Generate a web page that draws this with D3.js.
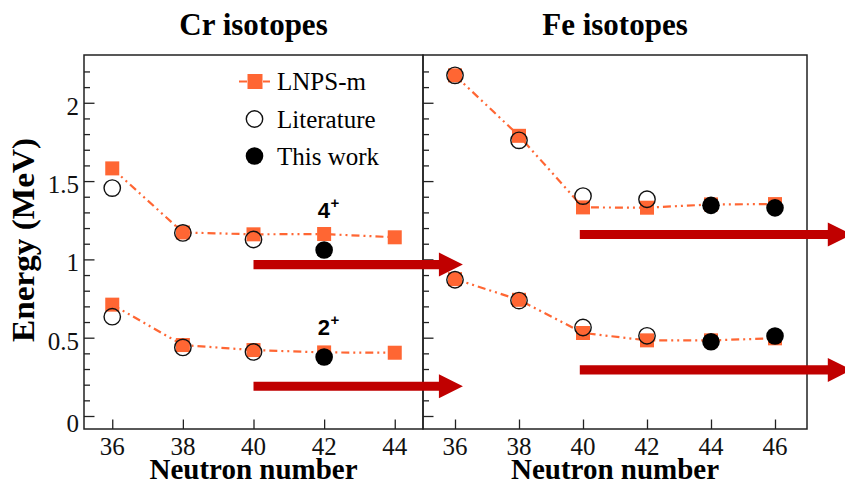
<!DOCTYPE html>
<html>
<head>
<meta charset="utf-8">
<script src="https://cdn.jsdelivr.net/npm/d3@7"></script>
<style>
  body { margin: 0; background: #fff; }
  svg { display: block; }
</style>
</head>
<body>
<svg id="chart" width="845" height="485"></svg>
<script>
// ---- Cr isotopes: excitation energies (MeV) ----
const crNeutrons   = [36, 38, 40, 42, 44];
const cr2Lnps      = [0.711, 0.453, 0.421, 0.406, 0.404];
const cr4Lnps      = [1.581, 1.172, 1.160, 1.162, 1.141];
const crLitN       = [36, 38, 40];
const cr2Lit       = [0.634, 0.438, 0.409];
const cr4Lit       = [1.455, 1.169, 1.127];
const crWorkN      = [42];
const cr2Work      = [0.377];
const cr4Work      = [1.060];

// ---- Fe isotopes: excitation energies (MeV) ----
const feNeutrons   = [36, 38, 40, 42, 44, 46];
const fe2Lnps      = [0.874, 0.742, 0.530, 0.483, 0.483, 0.496];
const fe4Lnps      = [2.175, 1.789, 1.332, 1.330, 1.351, 1.353];
const feLitN       = [36, 38, 40, 42];
const fe2Lit       = [0.870, 0.737, 0.565, 0.512];
const fe4Lit       = [2.175, 1.760, 1.404, 1.384];
const feWorkN      = [44, 46];
const fe2Work      = [0.474, 0.511];
const fe4Work      = [1.345, 1.329];

// ---- axes ----
const energyTicks  = [0, 0.5, 1, 1.5, 2];
const crTicks      = [36, 38, 40, 42, 44];
const feTicks      = [36, 38, 40, 42, 44, 46];

// ---- trend arrows (energy level, start/end neutron number) ----
const crArrowLevels = [0.967, 0.190];
const crArrowSpan   = [40, 45.93];
const feArrowLevels = [1.159, 0.294];
const feArrowSpan   = [39.9, 48.4];

// ---- spin labels in the Cr panel ----
const spinLabels = [{ spin: "4", e: 1.264 }, { spin: "2", e: 0.517 }];
const spinLabelN = 42;

const ORANGE = "#ff6633";
const ARROW  = "#c00000";
const SERIF  = "'Liberation Serif', 'Times New Roman', serif";
const SANS   = "'Liberation Sans', Arial, sans-serif";

const svg = d3.select("#chart");
const plotTop = 55, plotBottom = 429;
const y = d3.scaleLinear().domain([-0.083, 2.305]).range([plotBottom, plotTop]);

const panels = [
  { name: "Cr isotopes", x0: 84,  x1: 423, domain: [35.2, 44.8], ticks: crTicks,
    n: crNeutrons, lnps: [cr2Lnps, cr4Lnps], litN: crLitN, lit: [cr2Lit, cr4Lit],
    workN: crWorkN, work: [cr2Work, cr4Work], arrows: crArrowLevels, span: crArrowSpan },
  { name: "Fe isotopes", x0: 423, x1: 807, domain: [35, 47], ticks: feTicks,
    n: feNeutrons, lnps: [fe2Lnps, fe4Lnps], litN: feLitN, lit: [fe2Lit, fe4Lit],
    workN: feWorkN, work: [fe2Work, fe4Work], arrows: feArrowLevels, span: feArrowSpan }
];

const minorTicks = d3.range(0, 23).map(i => +(i / 10).toFixed(1));

panels.forEach(p => {
  p.x = d3.scaleLinear().domain(p.domain).range([p.x0, p.x1]);
});

// frames, ticks and labels
panels.forEach(p => {
  const g = svg.append("g");
  // inward y ticks along the panel's left edge
  const yAxis = d3.axisRight(y).tickValues(minorTicks).tickSize(0).tickFormat("");
  const ya = g.append("g").attr("transform", `translate(${p.x0},0)`).call(yAxis);
  ya.select(".domain").remove();
  ya.selectAll(".tick line")
    .attr("x2", d => (Math.abs(d * 2 - Math.round(d * 2)) < 1e-6 ? 10.5 : 6))
    .attr("stroke", "#222").attr("stroke-width", 1.3);

  // inward x ticks along the bottom
  const xAxis = d3.axisTop(p.x).tickValues(p.ticks).tickSize(9.5).tickFormat("");
  const xa = g.append("g").attr("transform", `translate(0,${plotBottom})`).call(xAxis);
  xa.select(".domain").remove();
  xa.selectAll(".tick line").attr("stroke", "#222").attr("stroke-width", 1.3);

  // x tick labels
  g.selectAll(".xl").data(p.ticks).join("text")
    .attr("x", d => p.x(d)).attr("y", 455)
    .attr("text-anchor", "middle")
    .attr("font-family", SERIF).attr("font-size", 25).attr("fill", "#111")
    .text(d => d);

  // frame
  g.append("rect")
    .attr("x", p.x0).attr("y", plotTop)
    .attr("width", p.x1 - p.x0).attr("height", plotBottom - plotTop)
    .attr("fill", "none").attr("stroke", "#222").attr("stroke-width", 1.5);

  // titles
  svg.append("text")
    .attr("x", (p.x0 + p.x1) / 2).attr("y", 35)
    .attr("text-anchor", "middle")
    .attr("font-family", SERIF).attr("font-weight", "bold").attr("font-size", 31)
    .text(p.name);
  svg.append("text")
    .attr("x", (p.x0 + p.x1) / 2).attr("y", 479)
    .attr("text-anchor", "middle")
    .attr("font-family", SERIF).attr("font-weight", "bold").attr("font-size", 29)
    .text("Neutron number");
});

// energy tick labels
svg.selectAll(".yl").data(energyTicks).join("text")
  .attr("x", 79).attr("y", d => y(d) + (d === 0 ? 16 : 12))
  .attr("text-anchor", "end")
  .attr("font-family", SERIF).attr("font-size", 25).attr("fill", "#111")
  .text(d => d);

svg.append("text")
  .attr("transform", `translate(34,240) rotate(-90)`)
  .attr("text-anchor", "middle")
  .attr("font-family", SERIF).attr("font-weight", "bold").attr("font-size", 31)
  .attr("textLength", 204).attr("lengthAdjust", "spacingAndGlyphs")
  .text("Energy (MeV)");

// data
const DASH = "8,4,2,4,2,4";
const SQ = 14;
panels.forEach(p => {
  const g = svg.append("g");
  const line = d3.line().x(d => p.x(d[0])).y(d => y(d[1]));
  p.lnps.forEach(vals => {
    const pts = p.n.map((n, i) => [n, vals[i]]);
    g.append("path").attr("d", line(pts))
      .attr("fill", "none").attr("stroke", ORANGE).attr("stroke-width", 2.2)
      .attr("stroke-dasharray", DASH);
    g.selectAll(null).data(pts).join("rect")
      .attr("x", d => p.x(d[0]) - SQ / 2).attr("y", d => y(d[1]) - SQ / 2)
      .attr("width", SQ).attr("height", SQ).attr("fill", ORANGE);
  });
  p.lit.forEach(vals => {
    g.selectAll(null).data(p.litN.map((n, i) => [n, vals[i]])).join("circle")
      .attr("cx", d => p.x(d[0])).attr("cy", d => y(d[1])).attr("r", 8.2)
      .attr("fill", "none").attr("stroke", "#111").attr("stroke-width", 1.4);
  });
  p.work.forEach(vals => {
    g.selectAll(null).data(p.workN.map((n, i) => [n, vals[i]])).join("circle")
      .attr("cx", d => p.x(d[0])).attr("cy", d => y(d[1])).attr("r", 8.8)
      .attr("fill", "#000");
  });
});

// trend arrows
panels.forEach(p => {
  p.arrows.forEach(e => {
    const xs = p.x(p.span[0]), xe = p.x(p.span[1]), yc = y(e);
    const head = 24, halfShaft = 4.6, halfHead = 12;
    const pts = [
      [xs, yc - halfShaft], [xe - head, yc - halfShaft], [xe - head, yc - halfHead],
      [xe, yc], [xe - head, yc + halfHead], [xe - head, yc + halfShaft], [xs, yc + halfShaft]
    ];
    svg.append("path").attr("d", "M" + pts.map(q => q.join(",")).join("L") + "Z")
      .attr("fill", ARROW);
  });
});

// spin labels
const cr = panels[0];
spinLabels.forEach(s => {
  const t = svg.append("text")
    .attr("x", cr.x(spinLabelN) - 6.5).attr("y", y(s.e))
    .attr("font-family", SANS).attr("font-weight", "bold").attr("font-size", 22);
  t.append("tspan").text(s.spin);
  t.append("tspan").attr("dy", -10).attr("dx", 0.5).attr("font-size", 15).text("+");
});

// legend
const lg = svg.append("g").attr("font-family", SERIF).attr("font-size", 25);
lg.append("line").attr("x1", 239).attr("x2", 270).attr("y1", 81.5).attr("y2", 81.5)
  .attr("stroke", ORANGE).attr("stroke-width", 2.2).attr("stroke-dasharray", "8,4");
lg.append("rect").attr("x", 247.5).attr("y", 74).attr("width", 15).attr("height", 15)
  .attr("fill", ORANGE);
lg.append("text").attr("x", 277).attr("y", 90).text("LNPS-m");
lg.append("circle").attr("cx", 254.5).attr("cy", 119).attr("r", 8.2)
  .attr("fill", "none").attr("stroke", "#111").attr("stroke-width", 1.4);
lg.append("text").attr("x", 277).attr("y", 128).text("Literature");
lg.append("circle").attr("cx", 254.5).attr("cy", 156).attr("r", 8.8).attr("fill", "#000");
lg.append("text").attr("x", 277).attr("y", 165).text("This work");
</script>
</body>
</html>
